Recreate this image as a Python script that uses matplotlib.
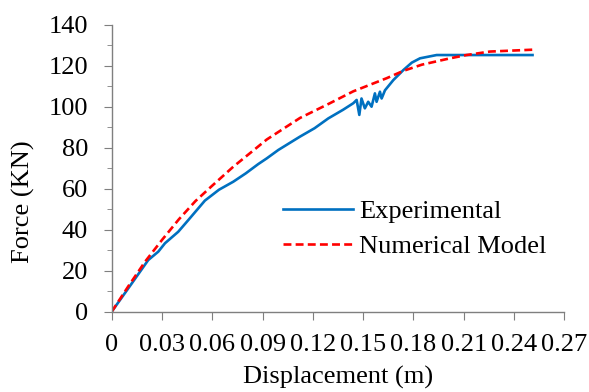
import numpy as np
import matplotlib
matplotlib.use('Agg')
import matplotlib.pyplot as plt
from matplotlib.ticker import MultipleLocator, FuncFormatter

plt.rcParams['font.family'] = ['Liberation Serif', 'DejaVu Serif']

# Experimental curve (displacement m, force kN)
exp_disp = [0.0, 0.01, 0.0218, 0.0278, 0.0318, 0.0397, 0.0457, 0.0556, 0.0640,
            0.0725, 0.0800, 0.0874, 0.0925, 0.0994, 0.1123, 0.1210, 0.1292, 0.1380,
            0.1441, 0.1461, 0.1477, 0.149, 0.151, 0.153, 0.155, 0.157, 0.158,
            0.160, 0.161, 0.163, 0.168, 0.174, 0.179, 0.1839, 0.1938, 0.21, 0.23, 0.251]
exp_force = [0.0, 11.5, 25.2, 29.3, 33.4, 39.0, 44.7, 54.2, 59.5,
             63.4, 67.5, 72.0, 74.8, 78.9, 85.4, 89.5, 94.3, 98.5,
             101.7, 103.3, 96.0, 104.0, 99.2, 102.4, 100.0, 106.5, 102.4,
             107.3, 104.0, 108.0, 113.0, 117.9, 121.5, 123.6, 125.2, 125.2, 125.2, 125.2]

# Numerical model curve
num_disp = [0.0, 0.01, 0.02, 0.03, 0.04, 0.05, 0.06, 0.0725, 0.0835, 0.0925,
            0.1123, 0.1292, 0.1441, 0.164, 0.174, 0.185, 0.2018, 0.2116, 0.2256, 0.251]
num_force = [0.0, 12.5, 24.5, 35.0, 45.0, 54.0, 61.5, 70.7, 78.0, 84.0,
             94.5, 101.3, 107.5, 113.9, 117.5, 120.5, 123.6, 125.2, 126.9, 127.8]

fig = plt.figure(figsize=(5.89, 3.92), dpi=100)
ax = fig.add_axes([0.1896, 0.2048, 0.7686, 0.7322])

ax.plot(exp_disp, exp_force, color='#0070C0', lw=1.9, label='Experimental')
ax.plot(num_disp, num_force, color='#FF0000', lw=1.9, ls=(0, (3, 1.6)),
        label='Numerical Model')

ax.set_xlim(0, 0.27)
ax.set_ylim(0, 140)
ax.xaxis.set_major_locator(MultipleLocator(0.03))
ax.yaxis.set_major_locator(MultipleLocator(20))
ax.yaxis.set_minor_locator(MultipleLocator(10))
ax.xaxis.set_major_formatter(FuncFormatter(lambda v, p: '0' if v == 0 else ('%.2f' % v)))

for s in ['top', 'right']:
    ax.spines[s].set_visible(False)
for s in ['left', 'bottom']:
    ax.spines[s].set_color('#7f7f7f')
    ax.spines[s].set_linewidth(1.0)
ax.tick_params(axis='both', which='major', direction='out', length=6,
               color='#7f7f7f', labelsize=19)
ax.tick_params(axis='y', which='minor', direction='out', length=3.5, color='#7f7f7f')
ax.tick_params(axis='y', which='major', pad=11)
ax.tick_params(axis='x', pad=10)

ax.set_xlabel('Displacement (m)', fontsize=19, labelpad=7)
ax.set_ylabel('Force (KN)', fontsize=19)
ax.yaxis.set_label_coords(-0.17, 0.385)

ax.legend(loc='upper left', bbox_to_anchor=(0.355, 0.428), frameon=False,
          fontsize=19, handlelength=2.65, handletextpad=0.25, labelspacing=0.45,
          borderaxespad=0)

fig.savefig('out.png', dpi=100)
